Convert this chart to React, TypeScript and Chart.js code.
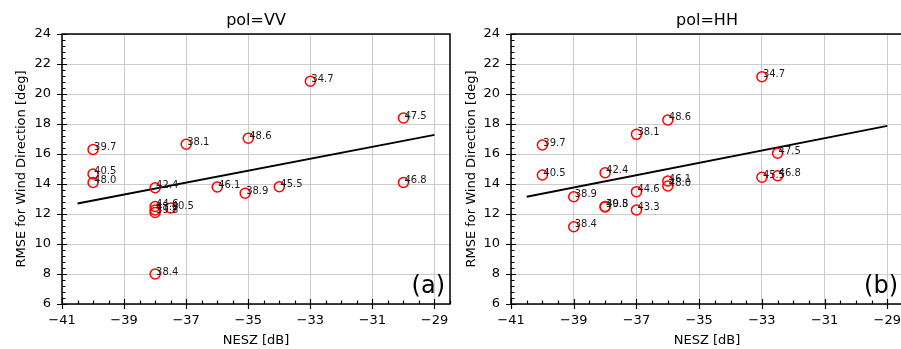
import React, { useEffect, useRef } from "react";
import { Chart, registerables } from "chart.js";

Chart.register(...registerables);

// ---- data ----
const xTickValues = [-41, -39, -37, -35, -33, -31, -29];
const yTickValues = [6, 8, 10, 12, 14, 16, 18, 20, 22, 24];
const xMinorStep = 0.5;
const yMinorStep = 0.4;

const vvNesz = [-33, -30, -40, -37, -35, -40, -40, -38, -36, -35.1, -34, -30, -38, -38, -38, -38, -37.5];
const vvRmse = [20.85, 18.4, 16.3, 16.65, 17.05, 14.67, 14.1, 13.75, 13.8, 13.38, 13.82, 14.1, 8.0, 12.5, 12.27, 12.1, 12.4];
const vvLabels = ["34.7", "47.5", "39.7", "38.1", "48.6", "40.5", "48.0", "42.4", "46.1", "38.9", "45.5", "46.8", "38.4", "44.6", "43.3", "39.8", "40.5"];

const hhNesz = [-33, -36, -37, -40, -32.5, -40, -38, -39, -39, -38, -38, -37, -37, -36, -36, -33, -32.5];
const hhRmse = [21.15, 18.27, 17.31, 16.6, 16.05, 14.6, 14.75, 13.15, 11.15, 12.5, 12.47, 13.49, 12.27, 14.2, 13.87, 14.45, 14.55];
const hhLabels = ["34.7", "48.6", "38.1", "39.7", "47.5", "40.5", "42.4", "38.9", "38.4", "40.5", "39.8", "44.6", "43.3", "46.1", "48.0", "45.5", "46.8"];

const fitX = [-40.5, -29];
const vvFit = [12.7, 17.27];
const hhFit = [13.15, 17.87];

const FONT = "'DejaVu Sans', sans-serif";

function makeOverlay(title: string, tag: string, labels: string[]) {
  return {
    id: "overlay",
    afterDraw(chart: any) {
      const ctx = chart.ctx;
      const a = chart.chartArea;
      const xs = chart.scales.x;
      const ys = chart.scales.y;
      ctx.save();
      // point labels
      const meta = chart.getDatasetMeta(0);
      ctx.font = `10px ${FONT}`;
      ctx.fillStyle = "#1a1a1a";
      ctx.textAlign = "left";
      ctx.textBaseline = "alphabetic";
      meta.data.forEach((el: any, i: number) => {
        ctx.fillText(labels[i], el.x + 1, el.y + 0.5);
      });
      // frame
      ctx.strokeStyle = "#000";
      ctx.lineWidth = 1.5;
      ctx.strokeRect(a.left, a.top, a.right - a.left, a.bottom - a.top);
      // ticks
      ctx.lineWidth = 1.2;
      ctx.beginPath();
      for (let v = xs.min; v <= xs.max + 1e-9; v += xMinorStep) {
        const px = Math.round(xs.getPixelForValue(v)) + 0.5;
        const major = xTickValues.some((t) => Math.abs(t - v) < 1e-6);
        if (major) {
          ctx.moveTo(px, a.bottom + 5);
          ctx.lineTo(px, a.bottom - 5);
        } else {
          ctx.moveTo(px, a.bottom);
          ctx.lineTo(px, a.bottom - 3.5);
        }
      }
      for (let v = ys.min; v <= ys.max + 1e-9; v += yMinorStep) {
        const py = Math.round(ys.getPixelForValue(v)) + 0.5;
        const major = yTickValues.some((t) => Math.abs(t - v) < 1e-6);
        if (major) {
          ctx.moveTo(a.left - 5, py);
          ctx.lineTo(a.left + 5, py);
        } else {
          ctx.moveTo(a.left, py);
          ctx.lineTo(a.left + 3.5, py);
        }
      }
      ctx.stroke();
      // title
      ctx.fillStyle = "#000";
      ctx.font = `16px ${FONT}`;
      ctx.textAlign = "center";
      ctx.fillText(title, (a.left + a.right) / 2, 25);
      // panel tag
      ctx.font = `24px ${FONT}`;
      ctx.textAlign = "right";
      ctx.fillText(tag, a.right - 5, a.bottom - 11);
      ctx.restore();
    },
  };
}

function buildConfig(
  nesz: number[],
  rmse: number[],
  fit: number[],
  labels: string[],
  title: string,
  tag: string,
  yWidth: number
): any {
  const tickFont = { family: FONT, size: 13 };
  return {
    type: "scatter",
    data: {
      datasets: [
        {
          type: "scatter",
          data: nesz.map((x, i) => ({ x, y: rmse[i] })),
          pointStyle: "circle",
          pointRadius: 5,
          pointBorderColor: "#ff0000",
          pointBackgroundColor: "rgba(0,0,0,0)",
          pointBorderWidth: 1.5,
          order: 1,
        },
        {
          type: "line",
          data: fitX.map((x, i) => ({ x, y: fit[i] })),
          borderColor: "#000",
          borderWidth: 1.8,
          pointRadius: 0,
          fill: false,
          order: 2,
        },
      ],
    },
    options: {
      animation: false,
      responsive: false,
      layout: { padding: { top: 34, right: 10, bottom: 0, left: 0 } },
      plugins: { legend: { display: false }, tooltip: { enabled: false }, title: { display: false } },
      scales: {
        x: {
          type: "linear",
          position: "bottom",
          min: -41,
          max: -28.5,
          afterBuildTicks: (s: any) => {
            s.ticks = xTickValues.map((v) => ({ value: v }));
          },
          afterFit: (s: any) => {
            s.height = 45;
          },
          grid: { color: "#cccccc", lineWidth: 1, drawTicks: false },
          border: { display: false },
          ticks: {
            padding: 9,
            font: tickFont,
            color: "#000",
            maxRotation: 0,
            autoSkip: false,
            callback: (v: number) => String(v).replace("-", "\u2212"),
          },
          title: {
            display: true,
            text: "NESZ [dB]",
            font: tickFont,
            color: "#000",
            padding: { top: 0, bottom: 1 },
          },
        },
        y: {
          type: "linear",
          position: "left",
          min: 6,
          max: 24,
          afterBuildTicks: (s: any) => {
            s.ticks = yTickValues.map((v) => ({ value: v }));
          },
          afterFit: (s: any) => {
            s.width = yWidth;
          },
          grid: { color: "#cccccc", lineWidth: 1, drawTicks: false },
          border: { display: false },
          ticks: { padding: 11, font: tickFont, color: "#000", autoSkip: false },
          title: {
            display: true,
            text: "RMSE for Wind Direction [deg]",
            font: tickFont,
            color: "#000",
            padding: { top: 14, bottom: 0 },
          },
        },
      },
    },
    plugins: [makeOverlay(title, tag, labels)],
  };
}

export default function App() {
  const leftRef = useRef<HTMLCanvasElement>(null);
  const rightRef = useRef<HTMLCanvasElement>(null);

  useEffect(() => {
    const c1 = new Chart(
      leftRef.current as HTMLCanvasElement,
      buildConfig(vvNesz, vvRmse, vvFit, vvLabels, "pol=VV", "(a)", 62)
    );
    const c2 = new Chart(
      rightRef.current as HTMLCanvasElement,
      buildConfig(hhNesz, hhRmse, hhFit, hhLabels, "pol=HH", "(b)", 61)
    );
    return () => {
      c1.destroy();
      c2.destroy();
    };
  }, []);

  return (
    <div
      style={{
        position: "fixed",
        left: 0,
        top: 0,
        width: 901,
        height: 349,
        overflow: "hidden",
        background: "#fff",
      }}
    >
      <canvas
        ref={leftRef}
        width={460}
        height={349}
        style={{ position: "absolute", left: 0, top: 0, width: 460, height: 349 }}
      />
      <canvas
        ref={rightRef}
        width={463}
        height={349}
        style={{ position: "absolute", left: 450, top: 0, width: 463, height: 349 }}
      />
    </div>
  );
}
